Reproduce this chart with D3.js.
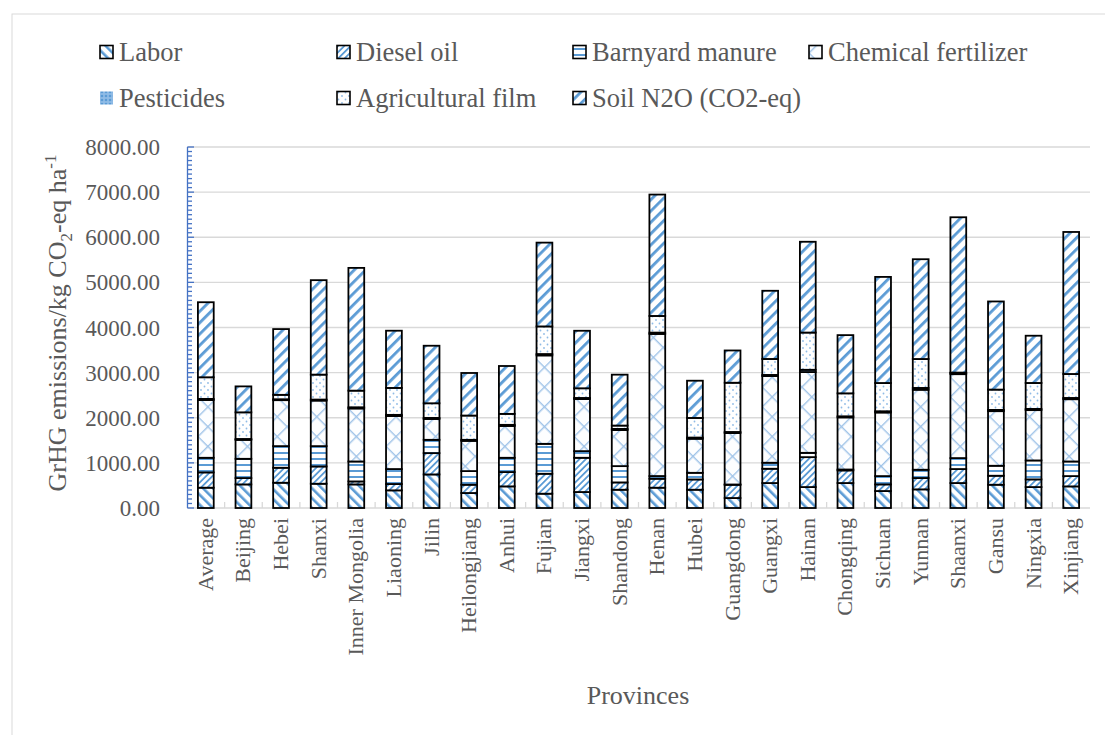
<!DOCTYPE html>
<html>
<head>
<meta charset="utf-8">
<script src="https://cdn.jsdelivr.net/npm/d3@7"></script>
<style>
  body { margin: 0; background: #fff; }
  text { font-family: "Liberation Serif", "Times New Roman", serif; fill: #595959; }
</style>
</head>
<body>
<div id="vizcontainer"></div>
<script>
const width = 1105,
  height = 735;

const provinces = ['Average', 'Beijing', 'Hebei', 'Shanxi', 'Inner Mongolia', 'Liaoning', 'Jilin',
  'Heilongjiang', 'Anhui', 'Fujian', 'Jiangxi', 'Shandong', 'Henan', 'Hubei', 'Guangdong',
  'Guangxi', 'Hainan', 'Chongqing', 'Sichuan', 'Yunnan', 'Shaanxi', 'Gansu', 'Ningxia', 'Xinjiang'];

const seriesNames = ['Labor', 'Diesel oil', 'Barnyard manure', 'Chemical fertilizer',
  'Pesticides', 'Agricultural film', 'Soil N2O (CO2-eq)'];

// values, kg CO2-eq / ha
const labor      = [450, 523, 560, 538, 523, 391, 744, 332, 479, 317, 354, 405, 450, 405, 221, 553, 464, 553, 376, 413, 553, 516, 464, 479];
const diesel     = [339, 140, 332, 383, 66, 140, 472, 184, 317, 442, 759, 162, 199, 228, 295, 317, 663, 280, 147, 251, 310, 199, 170, 228];
const barnyard   = [324, 427, 479, 450, 442, 332, 295, 302, 317, 663, 147, 361, 59, 147, 5, 133, 96, 20, 184, 184, 243, 221, 420, 324];
const fertilizer = [1280, 420, 1019, 1010, 1175, 1175, 462, 670, 705, 1960, 1155, 800, 3150, 755, 1140, 1920, 1790, 1155, 1410, 1773, 1860, 1210, 1115, 1380];
const pesticides = [25, 20, 20, 22, 26, 26, 24, 23, 25, 30, 24, 25, 29, 26, 24, 26, 50, 24, 27, 40, 27, 28, 27, 28];
const film       = [479, 590, 98, 553, 369, 597, 324, 538, 243, 612, 214, 74, 369, 435, 1091, 354, 825, 509, 626, 641, 8, 450, 575, 531];
const soilN2O    = [1663, 575, 1457, 2093, 2720, 1268, 1275, 943, 1061, 1857, 1275, 1128, 2690, 825, 715, 1511, 2012, 1290, 2351, 2211, 3442, 1953, 1047, 3147];

const yTicks = d3.range(0, 8001, 1000);

const seriesValues = [labor, diesel, barnyard, fertilizer, pesticides, film, soilN2O];
const patternIds = ['pLabor', 'pDiesel', 'pBarn', 'pFert', 'pPest', 'pFilm', 'pSoil'];

const table = provinces.map((p, i) => {
  let row = { province: p };
  seriesNames.forEach((s, j) => row[s] = seriesValues[j][i]);
  return row;
});

const blue = '#5b9bd5';

let viz = d3.select('#vizcontainer')
  .append('svg')
  .attr('width', width)
  .attr('height', height);

viz.append('rect')
  .attr('x', 12).attr('y', 14)
  .attr('width', width).attr('height', height)
  .attr('fill', '#fff')
  .attr('stroke', '#d9d9d9');

// patterns
let defs = viz.append('defs');

function stripes(id, size, w, angle, col) {
  let p = defs.append('pattern')
    .attr('id', id)
    .attr('patternUnits', 'userSpaceOnUse')
    .attr('width', size).attr('height', size)
    .attr('patternTransform', `rotate(${angle})`);
  p.append('rect').attr('width', size).attr('height', size).attr('fill', '#fff');
  p.append('rect').attr('width', w).attr('height', size).attr('fill', col);
}
stripes('pLabor', 7, 2.6, -45, blue);
stripes('pDiesel', 4.5, 1.8, 45, blue);
stripes('pSoil', 8, 2.8, 45, blue);

let pb = defs.append('pattern').attr('id', 'pBarn')
  .attr('patternUnits', 'userSpaceOnUse').attr('width', 6).attr('height', 6);
pb.append('rect').attr('width', 6).attr('height', 6).attr('fill', '#fff');
pb.append('rect').attr('y', 2).attr('width', 6).attr('height', 2).attr('fill', blue);

let pf = defs.append('pattern').attr('id', 'pFert')
  .attr('patternUnits', 'userSpaceOnUse').attr('width', 14).attr('height', 14)
  .attr('patternTransform', 'rotate(45)');
pf.append('rect').attr('width', 14).attr('height', 14).attr('fill', '#fdfeff');
pf.append('rect').attr('width', 1.4).attr('height', 14).attr('fill', '#9fc3e8');
pf.append('rect').attr('width', 14).attr('height', 1.4).attr('fill', '#9fc3e8');

let pp = defs.append('pattern').attr('id', 'pPest')
  .attr('patternUnits', 'userSpaceOnUse').attr('width', 4).attr('height', 4);
pp.append('rect').attr('width', 4).attr('height', 4).attr('fill', '#8fbbe6');
pp.append('circle').attr('cx', 2).attr('cy', 2).attr('r', 1.3).attr('fill', blue);

let pm = defs.append('pattern').attr('id', 'pFilm')
  .attr('patternUnits', 'userSpaceOnUse').attr('width', 7).attr('height', 7);
pm.append('rect').attr('width', 7).attr('height', 7).attr('fill', '#fff');
pm.append('circle').attr('cx', 1.5).attr('cy', 1.5).attr('r', 0.9).attr('fill', '#8fbbe6');
pm.append('circle').attr('cx', 5).attr('cy', 5).attr('r', 0.9).attr('fill', '#8fbbe6');

// scales
const x = d3.scaleBand()
  .domain(provinces)
  .range([187, 1090])
  .paddingInner(0.58)
  .paddingOuter(0.29);

const y = d3.scaleLinear()
  .domain([0, 8000])
  .range([508, 147]);

// grid
viz.append('g')
  .selectAll('line')
  .data(yTicks.slice(1))
  .join('line')
  .attr('x1', 187).attr('x2', 1090)
  .attr('y1', d => y(d)).attr('y2', d => y(d))
  .attr('stroke', '#d9d9d9')
  .attr('stroke-width', 1.3);

// x axis
viz.append('line')
  .attr('x1', 187).attr('x2', 1090)
  .attr('y1', y(0)).attr('y2', y(0))
  .attr('stroke', '#d9d9d9').attr('stroke-width', 1.3);
viz.append('g')
  .selectAll('line')
  .data(provinces.slice(1))
  .join('line')
  .attr('x1', d => x(d) - x.step() * x.paddingInner() / 2)
  .attr('x2', d => x(d) - x.step() * x.paddingInner() / 2)
  .attr('y1', y(0)).attr('y2', y(0) - 6)
  .attr('stroke', '#d9d9d9').attr('stroke-width', 1.3);

viz.append('g')
  .selectAll('text')
  .data(provinces)
  .join('text')
  .attr('transform', d => `translate(${x(d) + x.bandwidth() / 2 + 7},518) rotate(-90)`)
  .attr('text-anchor', 'end')
  .style('font-size', '22px')
  .text(d => d);

// stacked bars
const stack = d3.stack().keys(seriesNames)(table);

viz.append('g')
  .selectAll('g')
  .data(stack)
  .join('g')
  .attr('fill', (d, i) => `url(#${patternIds[i]})`)
  .selectAll('rect')
  .data(d => d)
  .join('rect')
  .attr('x', d => x(d.data.province))
  .attr('y', d => y(d[1]))
  .attr('width', x.bandwidth())
  .attr('height', d => y(d[0]) - y(d[1]))
  .attr('stroke', '#000')
  .attr('stroke-width', 1.8);

// y axis
const yMinor = d3.range(0, 8001, 100);
viz.append('line')
  .attr('x1', 187.5).attr('x2', 187.5)
  .attr('y1', y(0)).attr('y2', y(8000))
  .attr('stroke', '#4472c4').attr('stroke-width', 1.3);
viz.append('g')
  .selectAll('line')
  .data(yMinor)
  .join('line')
  .attr('x1', 187.5)
  .attr('x2', d => d % 1000 === 0 ? 194 : 192)
  .attr('y1', d => y(d)).attr('y2', d => y(d))
  .attr('stroke', '#4472c4').attr('stroke-width', 1.3);

viz.append('g')
  .selectAll('text')
  .data(yTicks)
  .join('text')
  .attr('x', 160)
  .attr('y', d => y(d) + 8)
  .attr('text-anchor', 'end')
  .style('font-size', '23px')
  .text(d => d3.format('.2f')(d));

let yTitle = viz.append('text')
  .attr('transform', 'translate(66,323) rotate(-90)')
  .attr('text-anchor', 'middle')
  .style('font-size', '26px');
yTitle.append('tspan').text('GrHG emissions/kg CO');
yTitle.append('tspan').attr('dy', 6).style('font-size', '17px').text('2');
yTitle.append('tspan').attr('dy', -6).text('-eq ha');
yTitle.append('tspan').attr('dy', -10).style('font-size', '17px').text('-1');

viz.append('text')
  .attr('x', 638).attr('y', 704)
  .attr('text-anchor', 'middle')
  .style('font-size', '26px')
  .text('Provinces');

// legend
const legendX = [100, 337, 573, 809],
  legendY = [52, 98];

let legend = viz.append('g')
  .selectAll('g')
  .data(seriesNames)
  .join('g')
  .attr('transform', (d, i) => `translate(${legendX[i % 4]},${legendY[Math.floor(i / 4)]})`);

legend.append('rect')
  .attr('x', 0).attr('y', -6.5)
  .attr('width', 13).attr('height', 13)
  .attr('fill', (d, i) => `url(#${patternIds[i]})`)
  .attr('stroke', (d, i) => i === 4 ? 'none' : '#000')
  .attr('stroke-width', 1.6);

legend.append('text')
  .attr('x', 19)
  .attr('y', 9)
  .style('font-size', '26.5px')
  .text(d => d);
</script>
</body>
</html>
